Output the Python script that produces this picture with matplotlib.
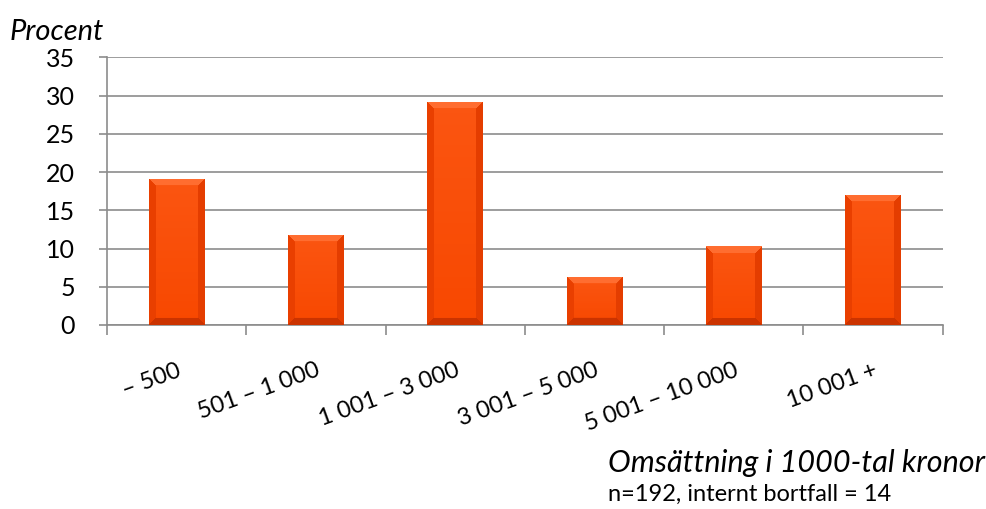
import numpy as np
import matplotlib.pyplot as plt
from matplotlib.colors import LinearSegmentedColormap

plt.rcParams['font.family'] = ['Lato', 'DejaVu Sans']

# --- data ---
categories = ["\u2013 500", "501 \u2013 1 000", "1 001 \u2013 3 000",
              "3 001 \u2013 5 000", "5 001 \u2013 10 000", "10 001 +"]
percent = [19.1, 11.8, 29.2, 6.3, 10.3, 17.0]
yticks = [0, 5, 10, 15, 20, 25, 30, 35]

fig = plt.figure(figsize=(9.86, 5.09), dpi=100)
ax = fig.add_axes([0.1085, 0.3615, 0.8475, 0.526])

x = np.arange(len(categories))
bars = ax.bar(x, percent, width=0.4, color='#f04100', zorder=3, linewidth=0)

# bevelled orange fill: light top facet, darker side and bottom facets
cmap = LinearSegmentedColormap.from_list(
    'bev', ['#9e2800', '#c83200', '#e83f00', '#f84800', '#ff6a2c', '#ff8a55'])
px_per_x = 0.8475 * 986 / len(categories)
px_per_y = 0.526 * 509 / 35
for b in bars:
    x0, y0 = b.get_x(), b.get_y()
    w, h = b.get_width(), b.get_height()
    nx = int(round(w * px_per_x))
    ny = max(int(round(h * px_per_y)), 2)
    yy, xx = np.mgrid[0:ny, 0:nx] + 0.5
    d_left, d_right = xx, nx - xx
    d_top, d_bot = ny - yy, yy
    bev = 7.0
    val = 0.60 + 0.08 * (yy / ny)
    dmin = np.minimum.reduce([d_left, d_right, d_top, d_bot])
    inb = dmin < bev
    val = np.where(inb & (dmin == d_left), 0.42, val)
    val = np.where(inb & (dmin == d_right), 0.38, val)
    val = np.where(inb & (dmin == d_bot), 0.22, val)
    val = np.where(inb & (dmin == d_top), 0.82, val)
    im = ax.imshow(val, cmap=cmap, vmin=0, vmax=1, origin='lower',
                   extent=[x0, x0 + w, y0, y0 + h], aspect='auto', zorder=3,
                   interpolation='bilinear')
    im.set_clip_path(b)

ax.set_xlim(-0.5, len(categories) - 0.5)
ax.set_ylim(0, 35)
ax.set_yticks(yticks)
ax.yaxis.grid(True, color='#8c8c8c', linewidth=1.2, zorder=0)
ax.set_axisbelow(True)

for s in ['top', 'right']:
    ax.spines[s].set_visible(False)
for s in ['left', 'bottom']:
    ax.spines[s].set_color('#8c8c8c')
    ax.spines[s].set_linewidth(1.2)

ax.tick_params(axis='y', length=6, width=1.2, color='#8c8c8c',
               labelsize=18, pad=17)
# ticks between categories on the x axis
ax.set_xticks(np.arange(len(categories) + 1) - 0.5)
ax.set_xticklabels([])
ax.tick_params(axis='x', length=7, width=1.2, color='#8c8c8c')
ax.set_xticks(x, minor=True)
ax.set_xticklabels(categories, minor=True, rotation=20, ha='right',
                   va='top', rotation_mode='anchor', fontsize=17)
ax.tick_params(axis='x', which='minor', length=0, pad=25)

fig.text(0.010, 0.922, "Procent", fontsize=21, style='italic')
fig.text(0.617, 0.072, "Omsättning i 1000-tal kronor", fontsize=22,
         style='italic')
fig.text(0.617, 0.016, "n=192, internt bortfall = 14", fontsize=17)

fig.savefig('out.png', dpi=100)
